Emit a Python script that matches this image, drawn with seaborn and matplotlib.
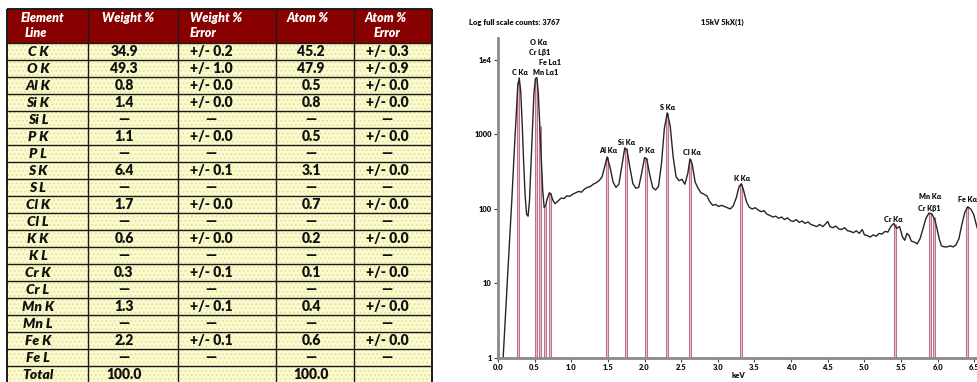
import numpy as np
import pandas as pd
import matplotlib
matplotlib.use("Agg")
import matplotlib.pyplot as plt
import seaborn as sns
from matplotlib.patches import Rectangle
from matplotlib.ticker import FixedLocator, FixedFormatter, NullLocator

# ---------------- table data ----------------
element_lines = ["C K", "O K", "Al K", "Si K", "Si L", "P K", "P L", "S K", "S L",
                 "Cl K", "Cl L", "K K", "K L", "Cr K", "Cr L", "Mn K", "Mn L",
                 "Fe K", "Fe L", "Total"]
weight_pct = [34.9, 49.3, 0.8, 1.4, None, 1.1, None, 6.4, None, 1.7, None, 0.6, None,
              0.3, None, 1.3, None, 2.2, None, 100.0]
weight_err = [0.2, 1.0, 0.0, 0.0, None, 0.0, None, 0.1, None, 0.0, None, 0.0, None,
              0.1, None, 0.1, None, 0.1, None, ""]
atom_pct = [45.2, 47.9, 0.5, 0.8, None, 0.5, None, 3.1, None, 0.7, None, 0.2, None,
            0.1, None, 0.4, None, 0.6, None, 100.0]
atom_err = [0.3, 0.9, 0.0, 0.0, None, 0.0, None, 0.0, None, 0.0, None, 0.0, None,
            0.0, None, 0.0, None, 0.0, None, ""]
header_line1 = ["Element", "Weight %", "Weight %", "Atom %", "Atom %"]
header_line2 = ["Line", "", "Error", "", "Error"]

# ---------------- spectrum data ----------------
spec_kev = [0.07, 0.10, 0.13, 0.16, 0.19, 0.22, 0.25, 0.27, 0.29, 0.31, 0.33, 0.35, 0.37,
            0.39, 0.41, 0.43, 0.45, 0.47, 0.49, 0.51, 0.53, 0.55, 0.57, 0.59, 0.61, 0.63,
            0.65, 0.67, 0.70, 0.72, 0.75, 0.78, 0.82, 0.86, 0.90, 0.94, 0.98, 1.02, 1.06,
            1.10, 1.14, 1.18, 1.22, 1.26, 1.30, 1.34, 1.38, 1.42, 1.45, 1.49, 1.53, 1.57,
            1.61, 1.65, 1.69, 1.73, 1.76, 1.80, 1.84, 1.88, 1.92, 1.96, 2.00, 2.03, 2.07,
            2.11, 2.15, 2.19, 2.23, 2.27, 2.31, 2.35, 2.39, 2.43, 2.47, 2.51, 2.55, 2.59,
            2.62, 2.65, 2.69, 2.73, 2.77, 2.81, 2.85, 2.89, 2.93, 2.97, 3.01, 3.05, 3.09,
            3.13, 3.17, 3.21, 3.25, 3.29, 3.32, 3.35, 3.39, 3.43, 3.47, 3.51, 3.55, 3.59,
            3.63, 3.67, 3.71, 3.75, 3.79, 3.83, 3.87, 3.91, 3.95, 3.99, 4.03, 4.07, 4.11,
            4.15, 4.19, 4.23, 4.27, 4.31, 4.35, 4.39, 4.43, 4.47, 4.50, 4.53, 4.57, 4.61,
            4.65, 4.69, 4.73, 4.77, 4.81, 4.85, 4.89, 4.93, 4.97, 5.00, 5.04, 5.08, 5.12,
            5.16, 5.20, 5.24, 5.28, 5.32, 5.36, 5.40, 5.44, 5.48, 5.52, 5.55, 5.58, 5.61,
            5.64, 5.68, 5.72, 5.76, 5.80, 5.84, 5.88, 5.92, 5.96, 5.99, 6.02, 6.05, 6.09,
            6.13, 6.17, 6.21, 6.25, 6.29, 6.33, 6.37, 6.41, 6.45, 6.49, 6.53, 6.56]
spec_counts = [1, 3.5, 12, 40, 140, 550, 2000, 4500, 5750, 3800, 1400, 420, 150,
               85, 80, 130, 400, 1300, 3500, 5600, 5800, 3600, 1300, 450, 180, 105,
               110, 135, 165, 160, 130, 118, 128, 140, 138, 150, 148, 158, 165,
               172, 168, 185, 195, 200, 215, 225, 240, 270, 350, 500, 360, 230,
               195, 215, 380, 660, 620, 360, 220, 190, 195, 300, 490, 470, 290,
               195, 180, 200, 400, 1200, 1950, 1300, 500, 270, 240, 250, 215, 300,
               470, 400, 230, 190, 165, 158, 150, 125, 112, 115, 108, 112, 108,
               104, 100, 110, 140, 200, 218, 180, 125, 105, 100, 104, 97, 92,
               95, 85, 82, 78, 80, 75, 78, 72, 76, 70, 68, 72, 66,
               69, 64, 67, 62, 60, 58, 62, 58, 63, 68, 58, 56, 59,
               54, 53, 56, 51, 50, 48, 51, 47, 53, 45, 44, 42, 45,
               43, 47, 46, 50, 49, 58, 64, 55, 58, 42, 38, 47, 44,
               37, 36, 34, 40, 55, 75, 88, 86, 72, 55, 40, 32, 31,
               31, 32, 31, 33, 40, 62, 90, 107, 100, 85, 60, 48]

line_kev = [0.277, 0.525, 0.573, 0.637, 0.705, 1.486, 1.740, 2.013, 2.307, 2.622,
            3.313, 5.414, 5.898, 5.947, 6.403]
line_top = [5000, 5600, 1300, 110, 165, 500, 650, 490, 1950, 470, 218, 62, 88, 78, 105]

label_text = ["O Kα", "Cr Lβ1", "Fe Lα1", "C Kα", "Mn Lα1", "Al Kα", "Si Kα", "P Kα",
              "S Kα", "Cl Kα", "K Kα", "Cr Kα", "Mn Kα", "Cr Kβ1", "Fe Kα"]
label_kev = [0.56, 0.57, 0.71, 0.30, 0.655, 1.50, 1.76, 2.03, 2.32, 2.65, 3.33, 5.39,
             5.89, 5.89, 6.41]
label_cnt = [16900, 12400, 9100, 6700, 6700, 600, 790, 600, 2270, 565, 253, 73,
             145, 103, 132]

xtick_vals = [0.0, 0.5, 1.0, 1.5, 2.0, 2.5, 3.0, 3.5, 4.0, 4.5, 5.0, 5.5, 6.0, 6.5]
xtick_labels = ["0.0", "0.5", "1.0", "1.5", "2.0", "2.5", "3.0", "3.5", "4.0", "4.5",
                "5.0", "5.5", "6.0", "6.5"]
ytick_vals = [1, 10, 100, 1000, 10000]
ytick_labels = ["1", "10", "100", "1000", "1e4"]

title_left = "Log full scale counts: 3767"
title_right = "15kV 5kX(1)"
x_label = "keV"

# ---------------- figure ----------------
sns.set_theme(style="white")
plt.rcParams['font.family'] = ['Lato', 'DejaVu Sans']

W, H = 978, 382
fig = plt.figure(figsize=(W / 100, H / 100), dpi=100)
fig.patch.set_facecolor("white")

ax_t = fig.add_axes([0, 0, 1, 1])
ax_t.set_xlim(0, W)
ax_t.set_ylim(H, 0)
ax_t.axis("off")

# table layout
col_edges = [7, 88, 178, 276, 354, 432]
top, head_bot, row_h = 9, 43, 17
n = len(element_lines)
bottom = head_bot + n * row_h
tw = col_edges[-1] - col_edges[0]

ax_t.add_patch(Rectangle((col_edges[0], top), tw, head_bot - top,
                         facecolor="#880000", edgecolor="none", zorder=1))
plt.rcParams['hatch.linewidth'] = 0.8
ax_t.add_patch(Rectangle((col_edges[0], head_bot), tw, n * row_h,
                         facecolor="#FBFBCF", edgecolor="#E3E39A", hatch="....",
                         linewidth=0, zorder=1))
for i in range(n + 1):
    ax_t.hlines(head_bot + i * row_h, col_edges[0], col_edges[-1], color="#1a1a1a",
                lw=1.0, zorder=3)
ax_t.hlines(top, col_edges[0], col_edges[-1], color="#1a1a1a", lw=1.4, zorder=3)
for k, x in enumerate(col_edges):
    ax_t.vlines(x, top, bottom, color="#1a1a1a",
                lw=1.4 if k in (0, len(col_edges) - 1) else 1.0, zorder=3)


def fmt_num(v):
    if v is None:
        return "—"
    if v == "":
        return ""
    return f"{v:.1f}"


def fmt_err(v):
    if v is None:
        return "—"
    if v == "":
        return ""
    return f"+/- {v:.1f}"


columns = [element_lines,
           [fmt_num(v) for v in weight_pct],
           [fmt_err(v) for v in weight_err],
           [fmt_num(v) for v in atom_pct],
           [fmt_err(v) for v in atom_err]]
cx = [38, 124, 211, 311, 387]
for j, col in enumerate(columns):
    for i, s in enumerate(col):
        ax_t.text(cx[j], head_bot + (i + 0.5) * row_h + 4.8, s, ha="center",
                  va="baseline", fontsize=10, fontweight="heavy",
                  style="italic" if j == 0 else "normal", color="#111", zorder=4)

h1x = [21, 102, 190, 287, 365]
h2x = [25, 102, 190, 287, 374]
for j in range(5):
    ax_t.text(h1x[j], 22, header_line1[j], ha="left", va="baseline", fontsize=9,
              fontweight="heavy", style="italic", color="white", zorder=4)
    if header_line2[j]:
        ax_t.text(h2x[j], 37, header_line2[j], ha="left", va="baseline", fontsize=9,
                  fontweight="heavy", style="italic", color="white", zorder=4)

ax_t.text(514, 23, title_left, ha="center", va="center", fontsize=5.5,
          fontweight="heavy", color="#111")
ax_t.text(722, 22, title_right, ha="center", va="center", fontsize=5.5,
          fontweight="heavy", color="#111")
ax_t.text(738, 376, x_label, ha="center", va="center", fontsize=5.5,
          fontweight="heavy", color="#111")

# spectrum
ax = fig.add_axes([498 / W, (H - 358) / H, (W - 498) / W, (358 - 38) / H])
ax.patch.set_alpha(0)
spec = pd.DataFrame({"keV": spec_kev, "counts": spec_counts})
ax.vlines(line_kev, 1, line_top, color="#B86A84", lw=2.2, zorder=1)
ax.vlines(line_kev, 1, line_top, color="#EDB8C7", lw=0.9, zorder=1.1)
sns.lineplot(data=spec, x="keV", y="counts", ax=ax, color="#262626", lw=1.0,
             estimator=None, sort=False, zorder=2)
ax.set_yscale("log")
ax.set_xlim(0, 6.55)
ax.set_ylim(1, 1.97e4)
ax.xaxis.set_major_locator(FixedLocator(xtick_vals))
ax.xaxis.set_major_formatter(FixedFormatter(xtick_labels))
ax.yaxis.set_major_locator(FixedLocator(ytick_vals))
ax.yaxis.set_major_formatter(FixedFormatter(ytick_labels))
ax.yaxis.set_minor_locator(NullLocator())
ax.xaxis.set_minor_locator(NullLocator())
ax.set_xlabel("")
ax.set_ylabel("")
ax.grid(False)
sns.despine(ax=ax)
for s in ("left", "bottom"):
    ax.spines[s].set_color("#8a8a8a")
    ax.spines[s].set_linewidth(2.0)
ax.tick_params(axis="both", which="major", labelsize=5.5, length=3, width=0.8,
               color="#444", pad=1.5, left=True, bottom=True, labelcolor="#111")
for lbl in ax.get_xticklabels() + ax.get_yticklabels():
    lbl.set_fontweight("heavy")

for t, x, y in zip(label_text, label_kev, label_cnt):
    ax.text(x, y, t, ha="center", va="center", fontsize=5.2, fontweight="heavy",
            color="#111", clip_on=False)

fig.savefig("out.png", dpi=100)
